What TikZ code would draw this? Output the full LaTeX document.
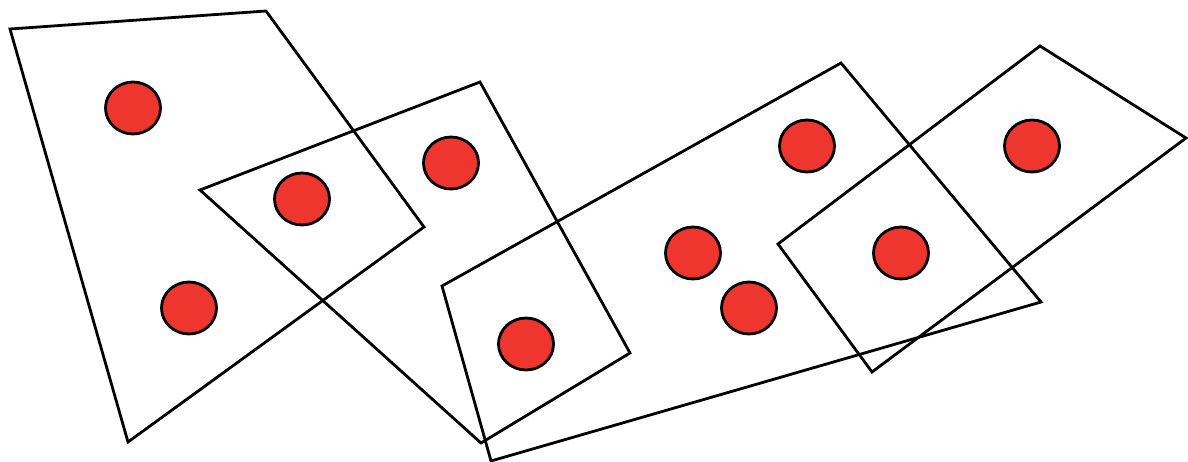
\documentclass[tikz,border=0pt]{standalone}
\usetikzlibrary{shapes.geometric}
\definecolor{dotred}{RGB}{239,54,46}
\begin{document}
\begin{tikzpicture}[x=1pt,y=-1pt,
  edgeline/.style={draw=black,line width=2.8pt,line join=miter},
  vertex/.style={ellipse,draw=black,fill=dotred,line width=2.8pt,minimum width=55pt,minimum height=52pt,inner sep=0pt}]
\useasboundingbox (0,0) rectangle (1188,462);
% hyperedges
\draw[edgeline] (10,29) -- (266,11) -- (424,227) -- (128,442) -- cycle;
\draw[edgeline] (200,190) -- (480,82) -- (630,353) -- (481,443) -- cycle;
\draw[edgeline] (442,286) -- (841,63) -- (1041,302) -- (491,461) -- cycle;
\draw[edgeline] (778,244) -- (1040,46) -- (1186,138) -- (872,372) -- cycle;
% vertices
\node[vertex] (v1) at (133,108) {};
\node[vertex] (v2) at (189,308) {};
\node[vertex] (v3) at (302,199) {};
\node[vertex] (v4) at (451,163) {};
\node[vertex] (v5) at (526,344) {};
\node[vertex] (v6) at (807,146) {};
\node[vertex] (v7) at (693,253) {};
\node[vertex] (v8) at (749,308) {};
\node[vertex] (v9) at (901,253) {};
\node[vertex] (v10) at (1032,146) {};
\end{tikzpicture}
\end{document}
